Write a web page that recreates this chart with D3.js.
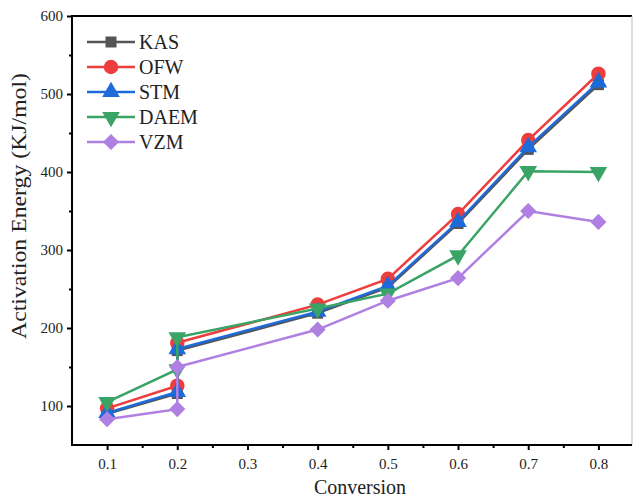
<!DOCTYPE html>
<html>
<head>
<meta charset="utf-8">
<script src="https://cdn.jsdelivr.net/npm/d3@7"></script>
<style>
    body { margin: 0; background: #fff; }
    text { font-family: "Liberation Serif", "Times New Roman", serif; fill: #222; }
</style>
</head>
<body>
<div id="chart"></div>
<script>
// conversion values (0.2 appears twice in the source data)
let conversion = [0.1, 0.2, 0.2, 0.4, 0.5, 0.6, 0.7, 0.8];
let xTicks = [0.1, 0.2, 0.3, 0.4, 0.5, 0.6, 0.7, 0.8];
let yTicks = [100, 200, 300, 400, 500, 600];

let seriesNames = ["KAS", "OFW", "STM", "DAEM", "VZM"];
let kas = [90, 116, 171, 219, 252, 334, 429, 512];
let ofw = [97, 126, 181, 230, 263, 346, 441, 526];
let stm = [91, 118, 173, 221, 254, 336, 432, 515];
let daem = [105, 147, 188, 225, 244, 293, 401, 400];
let vzm = [83, 96, 150, 198, 235, 264, 350, 336];

let colors = ["#555555", "#ee3d3d", "#1f6ad9", "#3aa366", "#b07fe2"];
let symbols = [d3.symbolSquare, d3.symbolCircle, d3.symbolTriangle, d3.symbolTriangle, d3.symbolSquare];
let symbolSizes = [121, 165, 135, 135, 130];
let symbolRot = [0, 0, 0, 180, 45];

let width = 633, height = 498;
let margin = {left: 72, top: 16, right: 632, bottom: 445};

let svg = d3.select("#chart")
    .append("svg")
    .attr("width", width)
    .attr("height", height);

let x = d3.scaleLinear().domain([0.05, 0.85]).range([margin.left, 633.5]);
let y = d3.scaleLinear().domain([50, 600]).range([margin.bottom, margin.top]);

// frame: top and right
svg.append("line")
    .attr("x1", margin.left).attr("x2", margin.right)
    .attr("y1", margin.top).attr("y2", margin.top)
    .attr("stroke", "#000").attr("stroke-width", 2);
svg.append("line")
    .attr("x1", margin.right).attr("x2", margin.right)
    .attr("y1", margin.top).attr("y2", margin.bottom)
    .attr("stroke", "#bbb").attr("stroke-width", 1);

// x axis
let xAxis = svg.append("g")
    .attr("transform", "translate(0," + margin.bottom + ")")
    .call(d3.axisBottom(x).tickValues(xTicks).tickSize(5).tickPadding(8)
        .tickFormat(d3.format(".1f")));
xAxis.select(".domain").attr("stroke-width", 2).attr("d", "M" + (margin.left - 1) + ",0H" + margin.right);
xAxis.selectAll(".tick line").attr("stroke-width", 2);
xAxis.selectAll(".tick text").attr("font-size", 15).attr("font-family", "Liberation Serif").attr("fill", "#222");

svg.append("g")
    .attr("transform", "translate(0," + margin.bottom + ")")
    .call(d3.axisBottom(x).tickValues([0.15, 0.25, 0.35, 0.45, 0.55, 0.65, 0.75]).tickSize(3).tickFormat(""))
    .call(g => g.select(".domain").remove())
    .selectAll(".tick line").attr("stroke-width", 2);

// y axis
let yAxis = svg.append("g")
    .attr("transform", "translate(" + margin.left + ",0)")
    .call(d3.axisLeft(y).tickValues(yTicks).tickSize(5).tickPadding(4));
yAxis.select(".domain").attr("stroke-width", 2).attr("d", "M0," + (margin.top - 1) + "V" + (margin.bottom + 1));
yAxis.selectAll(".tick line").attr("stroke-width", 2);
yAxis.selectAll(".tick text").attr("font-size", 15).attr("font-family", "Liberation Serif").attr("fill", "#222");

svg.append("g")
    .attr("transform", "translate(" + margin.left + ",0)")
    .call(d3.axisLeft(y).tickValues([150, 250, 350, 450, 550]).tickSize(3).tickFormat(""))
    .call(g => g.select(".domain").remove())
    .selectAll(".tick line").attr("stroke-width", 2);

// axis titles
svg.append("text")
    .attr("x", 360).attr("y", 494)
    .attr("text-anchor", "middle")
    .attr("font-size", 20)
    .text("Conversion");

svg.append("text")
    .attr("transform", "translate(26,206) rotate(-90)")
    .attr("text-anchor", "middle")
    .attr("font-size", 20)
    .attr("textLength", 266)
    .attr("lengthAdjust", "spacingAndGlyphs")
    .text("Activation Energy (KJ/mol)");

// series
let allSeries = [kas, ofw, stm, daem, vzm];
let line = d3.line()
    .x(function (d, i) { return x(conversion[i]); })
    .y(function (d) { return y(d); });

allSeries.forEach(function (values, s) {
    let g = svg.append("g");
    g.append("path")
        .datum(values)
        .attr("fill", "none")
        .attr("stroke", colors[s])
        .attr("stroke-width", 2.5)
        .attr("d", line);
    g.selectAll("path.pt")
        .data(values)
        .enter()
        .append("path")
        .attr("class", "pt")
        .attr("d", d3.symbol().type(symbols[s]).size(symbolSizes[s]))
        .attr("transform", function (d, i) {
            return "translate(" + x(conversion[i]) + "," + y(d) + ") rotate(" + symbolRot[s] + ")";
        })
        .attr("fill", colors[s]);
});

// legend
let legend = svg.selectAll(".legend")
    .data(seriesNames)
    .enter()
    .append("g")
    .attr("class", "legend")
    .attr("transform", function (d, i) {
        return "translate(87," + (42 + i * 25) + ")";
    });

legend.append("line")
    .attr("x1", 0).attr("x2", 48)
    .attr("stroke", function (d, i) { return colors[i]; })
    .attr("stroke-width", 2.5);

legend.append("path")
    .attr("d", function (d, i) {
        return d3.symbol().type(symbols[i]).size(symbolSizes[i])();
    })
    .attr("transform", function (d, i) {
        return "translate(24,0) rotate(" + symbolRot[i] + ")";
    })
    .attr("fill", function (d, i) { return colors[i]; });

legend.append("text")
    .attr("x", 52)
    .attr("y", 6.5)
    .attr("font-size", 20)
    .text(function (d) { return d; });
</script>
</body>
</html>
